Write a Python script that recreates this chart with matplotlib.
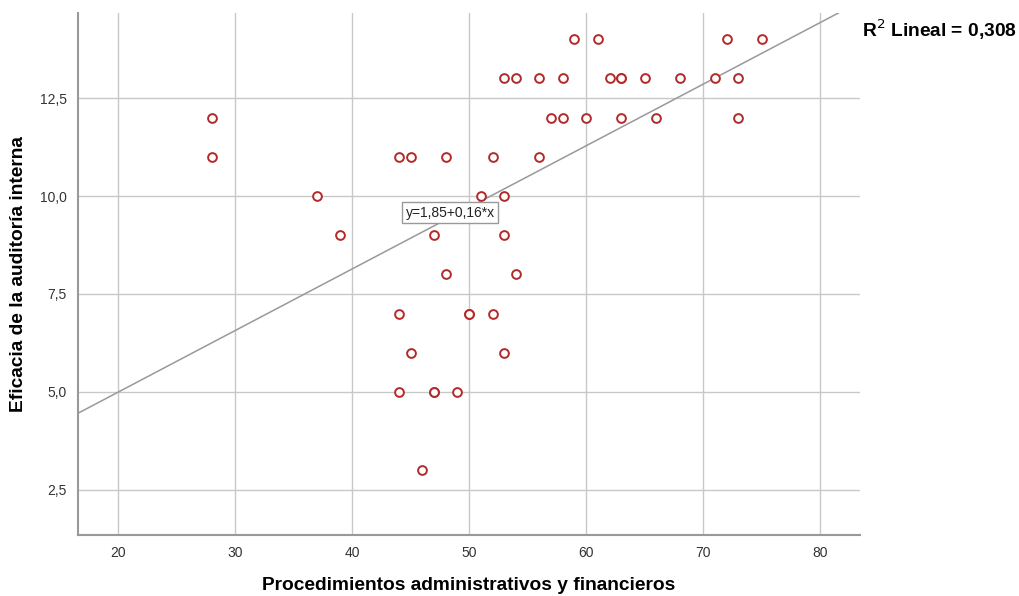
import matplotlib
matplotlib.use("Agg")
import matplotlib.pyplot as plt

plt.rcParams['font.family'] = ['Liberation Sans', 'DejaVu Sans']

# Data
proc_x = [28, 28, 37, 39, 44, 45, 48, 52, 56, 51, 53, 47, 53, 48, 54,
          44, 50, 50, 52, 45, 53, 44, 47, 47, 49, 46,
          57, 58, 60, 63, 66, 73,
          53, 54, 56, 58, 62, 63, 63, 65, 68, 71, 73,
          59, 61, 72, 75]
efic_y = [12, 11, 10, 9, 11, 11, 11, 11, 11, 10, 10, 9, 9, 8, 8,
          7, 7, 7, 7, 6, 6, 5, 5, 5, 5, 3,
          12, 12, 12, 12, 12, 12,
          13, 13, 13, 13, 13, 13, 13, 13, 13, 13, 13,
          14, 14, 14, 14]

intercept = 1.85
slope = 0.1572
eq_label = "y=1,85+0,16*x"
r2_label = "R$^2$ Lineal = 0,308"

x_ticks = [20, 30, 40, 50, 60, 70, 80]
y_ticks = [2.5, 5.0, 7.5, 10.0, 12.5]
y_tick_labels = ["2,5", "5,0", "7,5", "10,0", "12,5"]

fig = plt.figure(figsize=(10.2, 5.96), dpi=100)
ax = fig.add_axes([78/1020, 1 - 535/596, (860-78)/1020, (535-13)/596])

ax.set_xlim(16.58, 83.4)
ax.set_ylim(1.35, 14.67)

ax.set_xticks(x_ticks)
ax.set_xticklabels([str(v) for v in x_ticks])
ax.set_yticks(y_ticks)
ax.set_yticklabels(y_tick_labels)
ax.tick_params(length=0, labelsize=10, colors='#333333', pad=8)

ax.grid(True, color='#c8c8c8', linewidth=1.0)
ax.set_axisbelow(True)
for s in ['top', 'right']:
    ax.spines[s].set_visible(False)
for s in ['left', 'bottom']:
    ax.spines[s].set_color('#999999')
    ax.spines[s].set_linewidth(1.5)

ax.axline((0, intercept), slope=slope, color='#999999', linewidth=1.1, zorder=2)

ax.plot(proc_x, efic_y, linestyle='none', marker='o', markersize=6.3,
        markerfacecolor='white', markeredgecolor='#b22a2a', markeredgewidth=1.4,
        zorder=3)

ax.text(48.4, 9.57, eq_label, fontsize=10, ha='center', va='center', color='#222222',
        bbox=dict(boxstyle='square,pad=0.25', facecolor='white', edgecolor='#999999', linewidth=1.0),
        zorder=4)

fig.text(862/1020, 1 - 30/596, r2_label, fontsize=13.8, fontweight='bold',
         ha='left', va='center')

ax.set_xlabel("Procedimientos administrativos y financieros", fontsize=13.8,
              fontweight='bold', labelpad=12)
ax.set_ylabel("Eficacia de la auditoría interna", fontsize=13.8,
              fontweight='bold', labelpad=9)

fig.savefig("out.png", dpi=100)
